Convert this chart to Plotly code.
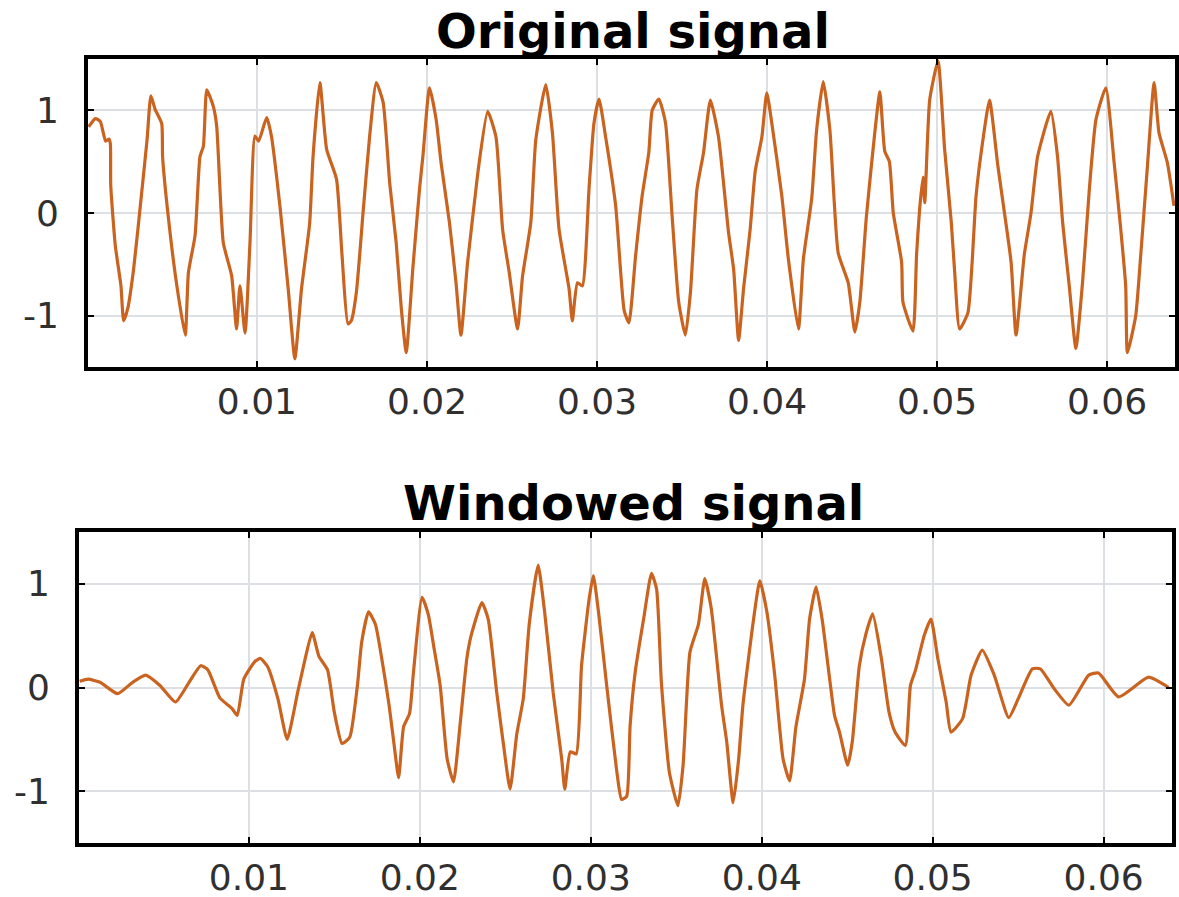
import plotly.graph_objects as go

# ---------------- data (time in ms, amplitude) ----------------
t_orig_ms = [0.10, 0.50, 0.79, 1.10, 1.30, 1.38, 1.40, 1.67, 2.00, 2.16, 2.40, 2.75, 3.24, 3.54, 3.76,
             4.01, 4.40, 4.45, 4.80, 5.29, 5.78, 5.97, 6.36, 6.65, 6.85, 7.05, 7.43, 7.63, 8.02, 8.51,
             8.80, 9.00, 9.30, 9.59, 9.88, 10.10, 10.57, 10.85, 11.35, 11.84, 12.23, 12.62, 13.10, 13.30,
             13.70, 14.10, 14.68, 15.00, 15.35, 15.55, 15.85, 16.24, 16.63, 17.02, 17.42, 17.81, 18.19,
             18.49, 18.78, 19.17, 19.56, 19.76, 20.15, 20.54, 20.83, 21.32, 21.71, 22.00, 22.39, 22.88,
             23.00, 23.57, 24.06, 24.45, 24.84, 25.33, 25.62, 26.11, 26.40, 26.99, 27.38, 27.77, 28.36,
             28.55, 28.85, 29.14, 29.53, 29.82, 30.12, 30.51, 31.10, 31.60, 31.88, 32.27, 32.66, 33.05,
             33.25, 33.64, 34.03, 34.42, 34.81, 35.20, 35.50, 35.88, 36.27, 36.67, 37.15, 37.74, 38.04,
             38.33, 38.62, 39.01, 39.31, 39.70, 39.99, 40.28, 40.87, 41.26, 41.85, 42.14, 42.63, 42.92,
             43.31, 43.70, 44.19, 44.78, 45.17, 45.46, 45.85, 46.34, 46.64, 46.93, 47.20, 47.43, 47.92,
             48.00, 48.59, 48.80, 48.98, 49.18, 49.28, 49.57, 50.06, 50.45, 50.84, 51.03, 51.33, 51.82,
             52.30, 52.70, 53.09, 53.58, 53.97, 54.36, 54.65, 55.14, 55.53, 55.92, 56.70, 57.09, 57.39,
             57.78, 58.17, 58.56, 58.96, 59.35, 59.93, 60.42, 60.81, 61.10, 61.20, 61.69, 61.98, 62.38,
             62.77, 63.06, 63.55, 63.94]
v_orig = [0.84, 0.92, 0.89, 0.70, 0.72, 0.67, 0.27, -0.32, -0.71, -1.05, -0.93, -0.54, 0.23, 0.72, 1.14,
          1.01, 0.87, 0.55, -0.06, -0.71, -1.19, -0.58, -0.22, 0.55, 0.65, 1.20, 1.04, 0.85, -0.29, -0.61,
          -1.13, -0.71, -1.17, -0.29, 0.75, 0.70, 0.93, 0.75, 0.07, -0.74, -1.42, -0.74, -0.10, 0.55,
          1.27, 0.62, 0.33, -0.40, -1.08, -1.05, -0.77, 0.00, 0.75, 1.27, 1.08, 0.29, -0.29,
          -0.93, -1.36, -0.54, 0.23, 0.55, 1.22, 0.91, 0.49, -0.09, -0.68, -1.19, -0.48, 0.23,
          0.40, 0.99, 0.74, -0.16, -0.58, -1.13, -0.62, -0.09, 0.71, 1.25, 0.78, -0.16, -0.74,
          -1.05, -0.68, -0.71, 0.23, 0.87, 1.11, 0.74, 0.07, -0.95, -1.07, -0.42, 0.17, 0.59,
          1.00, 1.11, 0.88, -0.03, -0.87, -1.19, -0.77, 0.23, 0.59, 1.10, 0.74, -0.19, -0.55,
          -1.24, -0.74, -0.16, 0.41, 0.74, 1.17, 0.88, 0.17, -0.45, -1.13, -0.45, 0.14, 0.81,
          1.28, 0.81, -0.39, -0.68, -1.16, -0.87, -0.03, 0.78, 1.18, 0.60, 0.50, 0.00, -0.48,
          -0.87, -1.15, -0.40, 0.04, 0.35, 0.10, 1.10, 1.48, 0.62, -0.09, -0.55, -1.13, -0.97,
          0.17, 0.71, 1.10, 0.46, 0.00, -0.48, -1.19, -0.40, 0.00, 0.55, 0.99, 0.55, -0.09,
          -0.71, -1.32, -0.68, 0.23, 0.91, 1.22, 0.49, -0.16, -0.71, -1.36, -1.00, -0.42, 0.46,
          1.27, 0.78, 0.49, 0.07]

t_win_ms = [0.10, 0.60, 1.30, 2.32, 3.20, 3.96, 4.80, 5.71, 6.50, 7.18, 7.60, 8.30, 9.00, 9.32, 9.70,
            10.35, 10.68, 11.10, 11.70, 12.24, 12.85, 13.20, 13.70, 14.10, 14.60, 15.00, 15.45, 15.90,
            16.35, 16.60, 17.00, 17.40, 17.90, 18.20, 18.50, 18.76, 19.05, 19.40, 19.63, 20.13, 20.50,
            20.80, 21.19, 21.60, 21.97, 22.36, 22.75, 23.00, 23.63, 24.00, 24.50, 24.90, 25.28, 25.67,
            26.05, 26.40, 26.92, 27.30, 27.80, 28.30, 28.48, 28.80, 29.15, 29.46, 29.90, 30.15, 30.45,
            30.93, 31.50, 31.80, 32.10, 32.30, 32.60, 33.10, 33.55, 33.85, 34.13, 34.60, 35.10, 35.40,
            35.80, 36.30, 36.67, 37.05, 37.65, 37.95, 38.33, 38.65, 38.90, 39.50, 39.89, 40.30, 40.76,
            41.25, 41.63, 42.00, 42.50, 42.80, 43.18, 43.55, 44.26, 44.55, 45.03, 45.30, 45.71, 46.10,
            46.49, 47.00, 47.45, 47.80, 48.40, 48.70, 49.00, 49.50, 49.90, 50.30, 50.79, 51.07, 51.75,
            52.25, 52.90, 53.60, 54.45, 55.00, 55.83, 56.30, 57.10, 57.97, 59.13, 59.70, 60.88, 62.63,
            63.80]
v_win = [0.06, 0.08, 0.05, -0.06, 0.05, 0.12, 0.02, -0.14, 0.05, 0.21, 0.17, -0.10, -0.20, -0.27, 0.08,
         0.25, 0.28, 0.20, -0.11, -0.50, -0.05, 0.21, 0.53, 0.30, 0.17, -0.24, -0.54, -0.48,
         0.02, 0.44, 0.73, 0.61, 0.15, -0.17, -0.56, -0.87, -0.38, -0.25, 0.15, 0.87, 0.70,
         0.41, 0.02, -0.69, -0.91, -0.35, 0.28, 0.50, 0.82, 0.66, -0.05, -0.56, -0.98, -0.45,
         -0.11, 0.61, 1.18, 0.73, -0.05, -0.69, -0.98, -0.62, -0.64, 0.21, 0.85, 1.08, 0.73,
         0.02, -0.78, -1.08, -1.05, -0.37, 0.15, 0.67, 1.10, 0.95, 0.05, -0.82, -1.14, -0.75,
         0.34, 0.61, 1.05, 0.76, -0.17, -0.52, -1.11, -0.69, -0.17, 0.63, 1.03, 0.73, 0.12,
         -0.69, -0.90, -0.38, 0.08, 0.66, 0.97, 0.64, -0.27, -0.43, -0.75, -0.52, 0.21, 0.52,
         0.71, 0.28, -0.24, -0.43, -0.56, 0.02, 0.17, 0.50, 0.66, 0.28, -0.14, -0.43, -0.30,
         0.12, 0.36, 0.12, -0.29, -0.11, 0.18, 0.18, -0.01, -0.17, 0.12, 0.14, -0.09, 0.10,
         0.00]

x_ticks = [0.01, 0.02, 0.03, 0.04, 0.05, 0.06]
x_tick_labels = ["0.01", "0.02", "0.03", "0.04", "0.05", "0.06"]
y_ticks = [-1, 0, 1]
y_tick_labels = ["-1", "0", "1"]
titles = ["Original signal", "Windowed signal"]

# ---------------- figure ----------------
W, H = 1179, 897
line_color = "#C9631F"
grid_color = "#DCDFE3"
tick_font = dict(family="DejaVu Sans", size=36, color="#303030")

fig = go.Figure()
fig.add_trace(go.Scatter(x=[t / 1000 for t in t_orig_ms], y=v_orig, mode="lines",
                         line=dict(color=line_color, width=3.2, shape="spline", smoothing=0.5),
                         xaxis="x", yaxis="y", showlegend=False))
fig.add_trace(go.Scatter(x=[t / 1000 for t in t_win_ms], y=v_win, mode="lines",
                         line=dict(color=line_color, width=3.2, shape="spline", smoothing=0.5),
                         xaxis="x2", yaxis="y2", showlegend=False))


def xax(domain, anchor):
    return dict(domain=domain, anchor=anchor, range=[0.0000625, 0.064],
                tickvals=x_ticks, ticktext=x_tick_labels, tickfont=tick_font,
                showgrid=True, gridcolor=grid_color, gridwidth=1.5, zeroline=False,
                showline=True, linecolor="black", linewidth=4, mirror="ticks",
                ticks="inside", ticklen=6, tickwidth=2, tickcolor="black",
                ticklabelstandoff=0)


def yax(domain, anchor):
    return dict(domain=domain, anchor=anchor, range=[-1.5, 1.5],
                tickvals=y_ticks, ticktext=y_tick_labels, tickfont=tick_font,
                showgrid=True, gridcolor=grid_color, gridwidth=1.5, zeroline=False,
                showline=True, linecolor="black", linewidth=4, mirror="ticks",
                ticks="inside", ticklen=6, tickwidth=2, tickcolor="black",
                ticklabelstandoff=18)


fig.update_layout(
    width=W, height=H, autosize=False,
    margin=dict(l=0, r=0, t=0, b=0),
    paper_bgcolor="white", plot_bgcolor="white",
    xaxis=xax([88 / W, 1175 / W], "y"),
    yaxis=yax([1 - 367 / H, 1 - 59 / H], "x"),
    xaxis2=xax([79 / W, 1172 / W], "y2"),
    yaxis2=yax([1 - 843 / H, 1 - 532 / H], "x2"),
    annotations=[
        dict(text=f"<b>{titles[0]}</b>", x=633 / W, y=1 - 31 / H, xref="paper", yref="paper",
             showarrow=False, xanchor="center", yanchor="middle",
             font=dict(family="DejaVu Sans", size=48, color="black")),
        dict(text=f"<b>{titles[1]}</b>", x=633 / W, y=1 - 503 / H, xref="paper", yref="paper",
             showarrow=False, xanchor="center", yanchor="middle",
             font=dict(family="DejaVu Sans", size=48, color="black")),
    ],
)

fig.write_html("out.html",
               config={"responsive": False, "displayModeBar": False},
               post_script="document.body.style.margin='0px';document.body.style.overflow='hidden';")
